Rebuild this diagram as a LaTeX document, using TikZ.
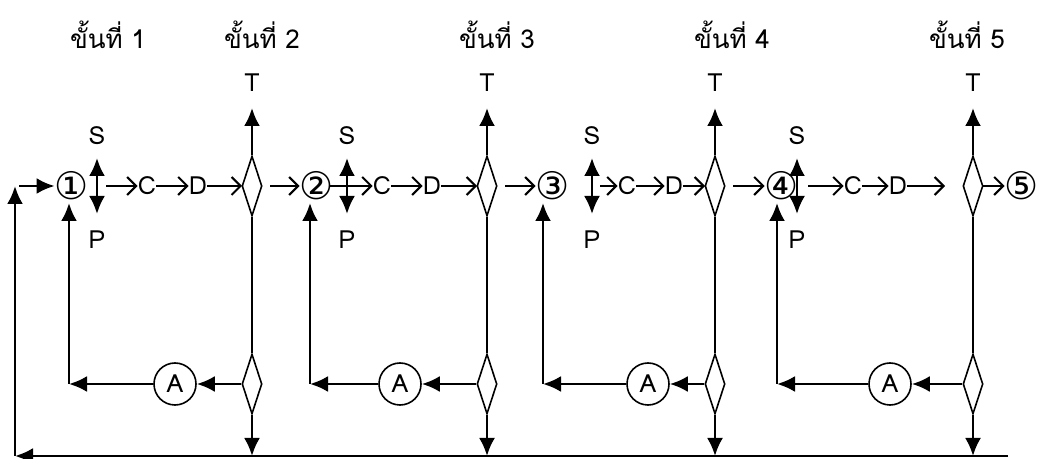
\documentclass[tikz,border=0pt]{standalone}
\usepackage{fontspec}
\setmainfont[Script=Thai]{Loma}
\newfontfamily\numfont{DejaVu Sans}
\usepackage{tikz}
\usetikzlibrary{arrows.meta,shapes.geometric}
\tikzstyle{head}=[inner sep=0pt,font=\fontsize{13}{15}\selectfont]
\tikzstyle{lbl}=[inner sep=0pt,font=\fontsize{12.5}{14}\selectfont]
\tikzstyle{num}=[inner sep=0pt,font=\numfont\fontsize{19}{21}\selectfont]
\tikzstyle{gate}=[draw,diamond,line width=0.8pt,minimum width=10pt,minimum height=30pt,inner sep=0pt]
\tikzstyle{ring}=[draw,circle,line width=0.8pt,minimum size=21pt,inner sep=0pt,font=\fontsize{12.5}{14}\selectfont]
\tikzstyle{fat}=[line width=1.3pt,-{Latex[length=9pt,width=8pt]}]
\tikzstyle{fatboth}=[line width=1.3pt,{Latex[length=9pt,width=8pt]}-{Latex[length=9pt,width=8pt]}]
\tikzstyle{flow}=[line width=1pt,-{Straight Barb[length=4.5pt,width=9pt]}]
\tikzstyle{link}=[line width=0.9pt]

\begin{document}
\begin{tikzpicture}[x=0.5pt,y=-0.5pt]
  \useasboundingbox (0,0) rectangle (1039,459);
  % headings
  \foreach \i/\x in {1/108,2/262,3/497,4/732,5/967}
    \node[head] (st\i) at (\x,35) {ขั้นที่ \i};
  % stage numbers
  \foreach \i/\x/\n in {1/72/①,2/317/②,3/553/③,4/782/④,5/1022/⑤}
    \node[num] (c\i) at (\x,186) {\n};
  % return line
  \coordinate (bl) at (15,456);
  \coordinate (br) at (1008,456);
  \coordinate (lt) at (15,186);
  \coordinate (ls) at (19,186);
  \draw[fat] (br) -- (bl);
  \draw[fat] (bl) -- (lt);
  \draw[fat] (ls) -- (c1.west);
  % stages
  \foreach \i/\xs/\xg/\xC/\xD/\xe/\xd/\xr/\xa/\xf in {
      1/97/106/147/198/242/252/270/175/69,
      2/347/330/382/432/477/487/505/400/310,
      3/592/600/627/674/705/715/733/648/543,
      4/797/808/853/898/945/973/983/890/777}{
    \pgfmathtruncatemacro\j{\i+1}
    \node[lbl] (S\i) at (\xs,136) {S};
    \node[lbl] (P\i) at (\xs,240) {P};
    \node[lbl] (C\i) at (\xC,186) {C};
    \node[lbl] (D\i) at (\xD,186) {D};
    \node[lbl] (T\i) at (\xd,83) {T};
    \node[gate] (td\i) at (\xd,186) {};
    \node[gate] (bd\i) at (\xd,384) {};
    \node[ring] (A\i) at (\xa,384) {A};
    \coordinate (sa\i) at (\xs,158);
    \coordinate (pa\i) at (\xs,214);
    \coordinate (g\i) at (\xg,186);
    \coordinate (e\i) at (\xe,186);
    \coordinate (r\i) at (\xr,186);
    \coordinate (t\i) at (\xd,108);
    \coordinate (f\i) at (\xf,384);
    \coordinate (u\i) at (\xf,203);
    \draw[fatboth] (sa\i) -- (pa\i);
    \draw[flow] (g\i) -- (C\i);
    \draw[flow] (C\i) -- (D\i);
    \draw[flow] (D\i) -- (e\i);
    \draw[flow] (r\i) -- (c\j);
    \draw[fat] (td\i.north) -- (t\i);
    \draw[link] (td\i.south) -- (bd\i.north);
    \draw[fat] (bd\i.south) -- (bd\i.south |- bl);
    \draw[fat] (bd\i.west) -- (A\i.east);
    \draw[fat] (A\i.west) -- (f\i);
    \draw[fat] (f\i) -- (u\i);
  }
\end{tikzpicture}
\end{document}
